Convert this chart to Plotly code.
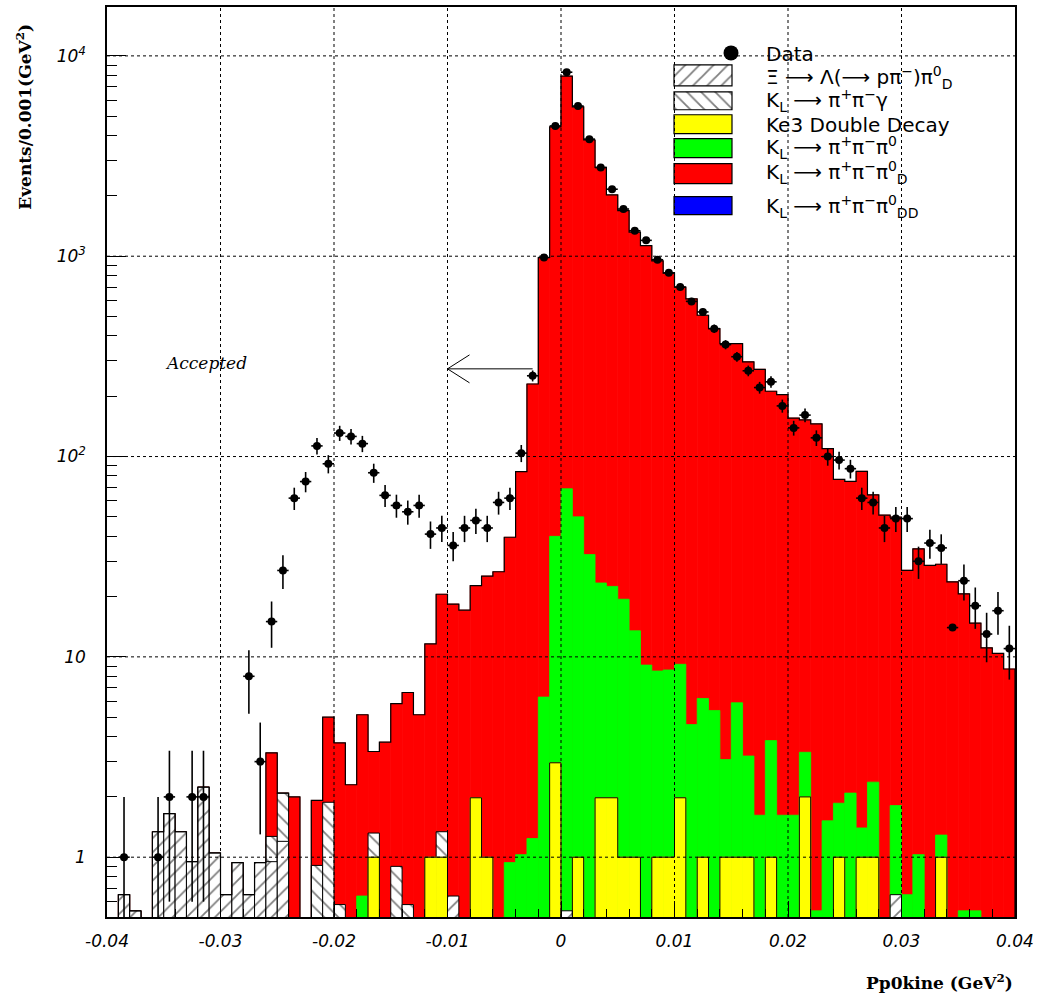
import numpy as np
import plotly.graph_objects as go

# ---------------- data (events per 0.001 GeV^2 bin, 80 bins from -0.04) ----------------
X_MIN, X_MAX, BIN_W = -0.04, 0.04, 0.001
Y_LOG_RANGE = [-0.2985, 4.244]

# MC components (stack order bottom -> top: Xi, Ke3, KL pi pi gamma, KL 3pi, KL 3pi_D)
xi_lambda_pi0d = [0, 0.65, 0.54, 0, 1.34, 1.65, 1.34, 0.95, 2.24, 1.05,
                  0.65, 0.94, 0.65, 0.94, 0.95, 1.2, 0, 0, 0, 0,
                  0, 0, 0, 0, 0, 0, 0, 0, 0, 0,
                  0.64, 0, 0, 0, 0, 0, 0, 0, 0, 0,
                  0.54, 0, 0, 0, 0, 0, 0, 0, 0, 0,
                  0, 0, 0, 0, 0, 0, 0, 0, 0, 0,
                  0, 0, 0, 0, 0, 0, 0, 0, 0, 0.65,
                  0, 0, 0, 0, 0, 0, 0, 0, 0, 0]
ke3_double = [0, 0, 0, 0, 0, 0, 0, 0, 0, 0,
              0, 0, 0, 0, 0, 0, 0, 0, 0, 0,
              0, 0, 0, 1.0, 0, 0, 0, 0, 1.0, 1.0,
              0, 0, 1.98, 1.0, 0, 0, 0, 0, 0, 2.96,
              0, 1.0, 0, 1.98, 1.98, 1.0, 1.0, 0, 1.0, 1.0,
              1.98, 0, 1.0, 0, 1.0, 1.0, 1.0, 0, 1.0, 0,
              0, 2.0, 0, 0, 1.0, 0, 1.0, 1.0, 0, 0,
              0, 0, 0, 1.0, 0, 0, 0, 0, 0, 0]
kl_pipigamma = [0, 0, 0, 0, 0, 0, 0, 0, 0, 0,
                0, 0, 0, 0, 0.32, 0.89, 0, 0, 0.91, 1.88,
                0.58, 0, 0, 0.32, 0, 0.9, 0.58, 0, 0, 0.34,
                0, 0, 0, 0, 0, 0, 0, 0, 0, 0,
                0, 0, 0, 0, 0, 0, 0, 0, 0, 0,
                0, 0, 0, 0, 0, 0, 0, 0, 0, 0,
                0, 0, 0, 0, 0, 0, 0, 0, 0, 0,
                0, 0, 0, 0, 0, 0, 0, 0, 0, 0]
kl_3pi = [0, 0, 0, 0, 0, 0, 0, 0, 0, 0,
          0, 0, 0, 0, 0, 0, 0, 0, 0, 0,
          0, 0, 0.64, 0, 0, 0, 0, 0, 0, 0,
          0, 0, 0, 0, 0, 0.94, 1.03, 1.24, 6.3, 37.0,
          68.5, 49.0, 32.4, 21.4, 20.5, 18.4, 12.5, 9.1, 7.5, 7.6,
          7.2, 4.59, 5.2, 5.4, 2.07, 4.9, 2.2, 1.62, 2.82, 1.62,
          1.62, 1.34, 0.54, 1.52, 0.86, 2.09, 0.4, 1.37, 0, 1.16,
          0.65, 1.03, 0, 0.29, 0, 0.54, 0.54, 0, 0, 0]
kl_3pi_d = [0, 0, 0, 0, 0, 0, 0, 0, 0, 0,
            0, 0, 0, 0, 2.05, 0, 2.0, 0, 1.01, 3.12,
            3.14, 2.3, 4.5, 2.05, 3.75, 4.94, 6.06, 5.14, 10.6, 19.2,
            17.7, 17.1, 20.7, 24.3, 26.6, 38.6, 83, 229, 979, 4380,
            7860, 5520, 3770, 2750, 2000, 1670, 1305, 1121, 940, 814,
            692, 608, 501, 430, 363, 360, 294, 271, 208, 202,
            154, 149, 145, 108, 75, 73, 83, 62, 51, 48,
            26.4, 33.6, 28.6, 27.7, 23.7, 20.1, 14.2, 11.1, 10.4, 8.7]

data_counts = [None, 1, None, None, 1, 2, None, 2, 2, None,
               None, None, 8, 3, 15, 27, 62, 75, 113, 92,
               131, 126, 116, 83, 64, 57, 53, 57, 41, 44,
               36, 44, 48, 44, 59, 62, 104, 253, 985, 4470,
               8290, 5620, 3840, 2770, 2160, 1720, 1340, 1200, 960, 826,
               701, 595, 527, 435, 362, 315, 268, 221, 236, 179,
               139, 161, 124, 100, 96, 87, 62, 59, 44, 49,
               49, 30, 37, 35, 14, 24, 18, 13, 17, 11]
data_errors = [None, 1, None, None, 1, 1.4, None, 1.4, 1.4, None,
               None, None, 2.8, 1.7, 3.9, 5.2, 7.9, 8.7, 10.6, 9.6,
               11.4, 11.2, 10.8, 9.1, 8.0, 7.5, 7.3, 7.5, 6.4, 6.6,
               6.0, 6.6, 6.9, 6.6, 7.7, 7.9, 10.2, 15.9, 31.4, 66.9,
               91, 75, 62, 52.6, 46.5, 41.5, 36.6, 34.6, 31, 28.7,
               26.5, 24.4, 23, 20.9, 19, 17.7, 16.4, 14.9, 15.4, 13.4,
               11.8, 12.7, 11.1, 10, 9.8, 9.3, 7.9, 7.7, 6.6, 7,
               7, 5.5, 6.1, 5.9, 0, 4.9, 4.2, 3.6, 4.1, 3.3]

XTICK_VALS = [-0.04, -0.03, -0.02, -0.01, 0, 0.01, 0.02, 0.03, 0.04]
XTICK_TEXT = ["-0.04", "-0.03", "-0.02", "-0.01", "0", "0.01", "0.02", "0.03", "0.04"]
YTICK_VALS = [1, 10, 100, 1000, 10000]
YTICK_TEXT = ["1", "10", "10<sup>2</sup>", "10<sup>3</sup>", "10<sup>4</sup>"]

ARR = "\u27f6"
LEGEND_LABELS = [
    "Data",
    "\u039e " + ARR + " \u039b(" + ARR + " p\u03c0<sup>\u2212</sup>)\u03c0<sup>0</sup><sub>D</sub>",
    "K<sub>L</sub> " + ARR + " \u03c0<sup>+</sup>\u03c0<sup>\u2212</sup>\u03b3",
    "Ke3 Double Decay",
    "K<sub>L</sub> " + ARR + " \u03c0<sup>+</sup>\u03c0<sup>\u2212</sup>\u03c0<sup>0</sup>",
    "K<sub>L</sub> " + ARR + " \u03c0<sup>+</sup>\u03c0<sup>\u2212</sup>\u03c0<sup>0</sup><sub>D</sub>",
    "K<sub>L</sub> " + ARR + " \u03c0<sup>+</sup>\u03c0<sup>\u2212</sup>\u03c0<sup>0</sup><sub>DD</sub>",
]

# cut arrow (events axis value / x positions)
CUT_X_TAIL, CUT_X_HEAD, CUT_Y_VALUE = -0.0025, -0.01, 274

# ---------------- layout constants (pixels) ----------------
W, H = 1039, 999
PL, PR, PT, PB = 107, 1015, 5, 917

def pxx(px):
    return (px - PL) / (PR - PL)

def pxy(py):
    return (PB - py) / (PB - PT)

def xpaper(x):
    return (x - X_MIN) / (X_MAX - X_MIN)

def ypaper(v):
    return (np.log10(v) - Y_LOG_RANGE[0]) / (Y_LOG_RANGE[1] - Y_LOG_RANGE[0])

# ---------------- stacking ----------------
xi = np.array(xi_lambda_pi0d, float)
ke3 = np.array(ke3_double, float)
klg = np.array(kl_pipigamma, float)
g3 = np.array(kl_3pi, float)
r3 = np.array(kl_3pi_d, float)

c_xi = xi
c_ke3 = c_xi + ke3
c_klg = c_ke3 + klg
c_g = c_klg + g3
c_r = c_g + r3

edges = X_MIN + BIN_W * np.arange(len(xi) + 1)
centers = edges[:-1] + BIN_W / 2


def masked(cum, comp):
    return [float(c) if p > 0 else None for c, p in zip(cum, comp)]


def step_xy(vals, floor=1e-3):
    v = np.where(np.asarray(vals) > 0, vals, floor)
    xs = np.repeat(edges, 2)
    ys = np.concatenate([[floor], np.repeat(v, 2), [floor]])
    return xs, ys


HATCH_A = dict(shape="/", fgcolor="black", bgcolor="white", size=10, solidity=0.18)
HATCH_B = dict(shape="\\", fgcolor="black", bgcolor="white", size=10, solidity=0.18)

fig = go.Figure()

solid = dict(hoverinfo="skip", showlegend=False, width=BIN_W)
fig.add_trace(go.Bar(x=centers, y=masked(c_r, c_r),
                     marker=dict(color="#ff0000", line=dict(color="#ff0000", width=0.8)), **solid))
fig.add_trace(go.Bar(x=centers, y=masked(c_g, g3),
                     marker=dict(color="#00ff00", line=dict(color="#00ff00", width=0.8)), **solid))
fig.add_trace(go.Bar(x=centers, y=masked(c_klg, klg),
                     marker=dict(color="white", line=dict(color="black", width=1), pattern=HATCH_B),
                     **solid))
fig.add_trace(go.Bar(x=centers, y=masked(c_ke3, ke3),
                     marker=dict(color="#ffff00", line=dict(color="#ffff00", width=0.8)), **solid))
fig.add_trace(go.Bar(x=centers, y=masked(c_xi, xi),
                     marker=dict(color="white", line=dict(color="black", width=1), pattern=HATCH_A),
                     **solid))

# outlines
sx, sy = step_xy(c_r)
fig.add_trace(go.Scatter(x=sx, y=sy, mode="lines", line=dict(color="black", width=1.2),
                         hoverinfo="skip", showlegend=False))
sx, sy = step_xy(np.where(ke3 > 0, c_ke3, 0))
fig.add_trace(go.Scatter(x=sx, y=sy, mode="lines", line=dict(color="black", width=1),
                         hoverinfo="skip", showlegend=False))

# data points
fig.add_trace(go.Scatter(
    x=centers, y=data_counts, mode="markers",
    marker=dict(color="black", size=8),
    error_y=dict(type="data", array=data_errors, color="black", thickness=1.6, width=0),
    error_x=dict(type="constant", value=BIN_W / 2, color="black", thickness=1.6, width=0),
    hoverinfo="skip", showlegend=False))

# ---------------- custom legend (overlay axes in paper units) ----------------
SW_X0, SW_X1 = 674, 732
SW_ROWS = [(63, 84), (90, 108), (113, 132), (137, 156), (162, 182), (195, 213)]
SW_STYLE = [
    dict(color="white", pattern=HATCH_A),
    dict(color="white", pattern=HATCH_B),
    dict(color="#ffff00"),
    dict(color="#00ff00"),
    dict(color="#ff0000"),
    dict(color="#0000ff"),
]
for (top, bot), st in zip(SW_ROWS, SW_STYLE):
    mk = dict(st)
    mk["line"] = dict(color="black", width=1.2)
    fig.add_trace(go.Bar(x=[(pxx(SW_X0) + pxx(SW_X1)) / 2], y=[pxy(top) - pxy(bot)], base=[pxy(bot)],
                         width=[pxx(SW_X1) - pxx(SW_X0)], marker=mk, xaxis="x2", yaxis="y2",
                         hoverinfo="skip", showlegend=False))
fig.add_trace(go.Scatter(x=[pxx(731)], y=[pxy(51)], mode="markers", marker=dict(color="black", size=15),
                         xaxis="x2", yaxis="y2", hoverinfo="skip", showlegend=False))

TEXT_ROWS = [52, 76, 99, 123, 146, 171, 205]
annotations = []
for lab, py in zip(LEGEND_LABELS, TEXT_ROWS):
    annotations.append(dict(text=lab, x=pxx(764), y=pxy(py), xref="paper", yref="paper",
                            xanchor="left", yanchor="middle", showarrow=False,
                            font=dict(family="DejaVu Sans", size=20, color="black")))

annotations.append(dict(text="Accepted", x=pxx(206), y=pxy(362), xref="paper", yref="paper",
                        xanchor="center", yanchor="middle", showarrow=False,
                        font=dict(family="DejaVu Serif", size=17, color="black", style="italic")))
annotations.append(dict(text="Pp0kine (GeV<sup>2</sup>)", x=1.0, y=pxy(982), xref="paper", yref="paper",
                        xanchor="right", yanchor="middle", showarrow=False,
                        font=dict(family="DejaVu Serif", size=17, color="black", weight="bold")))
annotations.append(dict(text="Events/0.001(GeV<sup>2</sup>)", x=pxx(24), y=pxy(115), xref="paper", yref="paper",
                        xanchor="center", yanchor="middle", showarrow=False, textangle=-90,
                        font=dict(family="DejaVu Serif", size=17, color="black", weight="bold")))

# ---------------- grid lines (dotted, above fills) and cut arrow ----------------
shapes = []
for xv in XTICK_VALS[1:-1]:
    shapes.append(dict(type="line", xref="paper", yref="paper", x0=xpaper(xv), x1=xpaper(xv), y0=0, y1=1,
                       line=dict(color="black", width=1, dash="dot"), layer="above"))
for yv in YTICK_VALS:
    shapes.append(dict(type="line", xref="paper", yref="paper", x0=0, x1=1, y0=ypaper(yv), y1=ypaper(yv),
                       line=dict(color="black", width=1, dash="dot"), layer="above"))

ay = ypaper(CUT_Y_VALUE)
hx, tx = xpaper(CUT_X_HEAD), xpaper(CUT_X_TAIL)
hdx, hdy = 22 / (PR - PL), 14 / (PB - PT)
for (x0, y0, x1, y1) in [(tx, ay, hx, ay), (hx, ay, hx + hdx, ay + hdy), (hx, ay, hx + hdx, ay - hdy)]:
    shapes.append(dict(type="line", xref="paper", yref="paper", x0=x0, y0=y0, x1=x1, y1=y1,
                       line=dict(color="black", width=1), layer="above"))

tickfont = dict(family="DejaVu Sans", size=17, color="black", style="italic")
fig.update_layout(
    width=W, height=H,
    margin=dict(l=PL, r=W - PR, t=PT, b=H - PB),
    paper_bgcolor="white", plot_bgcolor="white",
    barmode="overlay", showlegend=False,
    xaxis=dict(range=[X_MIN, X_MAX], tickmode="array", tickvals=XTICK_VALS, ticktext=XTICK_TEXT,
               ticks="inside", ticklen=16, tickwidth=1, tickcolor="black",
               minor=dict(tickmode="linear", tick0=X_MIN, dtick=0.002, ticks="inside", ticklen=8,
                          tickcolor="black", tickwidth=1),
               showgrid=False, zeroline=False, showline=True, linecolor="black", linewidth=1.5,
               mirror=True, tickfont=tickfont, ticklabelstandoff=8, layer="above traces"),
    yaxis=dict(type="log", range=Y_LOG_RANGE, tickmode="array", tickvals=YTICK_VALS, ticktext=YTICK_TEXT,
               ticks="inside", ticklen=19, tickwidth=1, tickcolor="black",
               minor=dict(tickmode="array",
                          tickvals=[m * 10 ** k for k in range(-1, 5) for m in range(2, 10)],
                          ticks="inside", ticklen=10, tickcolor="black", tickwidth=1),
               showgrid=False, zeroline=False, showline=True, linecolor="black", linewidth=1.5,
               mirror=True, tickfont=tickfont, ticklabelstandoff=16, layer="above traces"),
    xaxis2=dict(overlaying="x", anchor="y2", range=[0, 1], visible=False, fixedrange=True),
    yaxis2=dict(overlaying="y", anchor="x2", range=[0, 1], visible=False, fixedrange=True),
    annotations=annotations,
    shapes=shapes,
)

fig.write_html("out.html")
